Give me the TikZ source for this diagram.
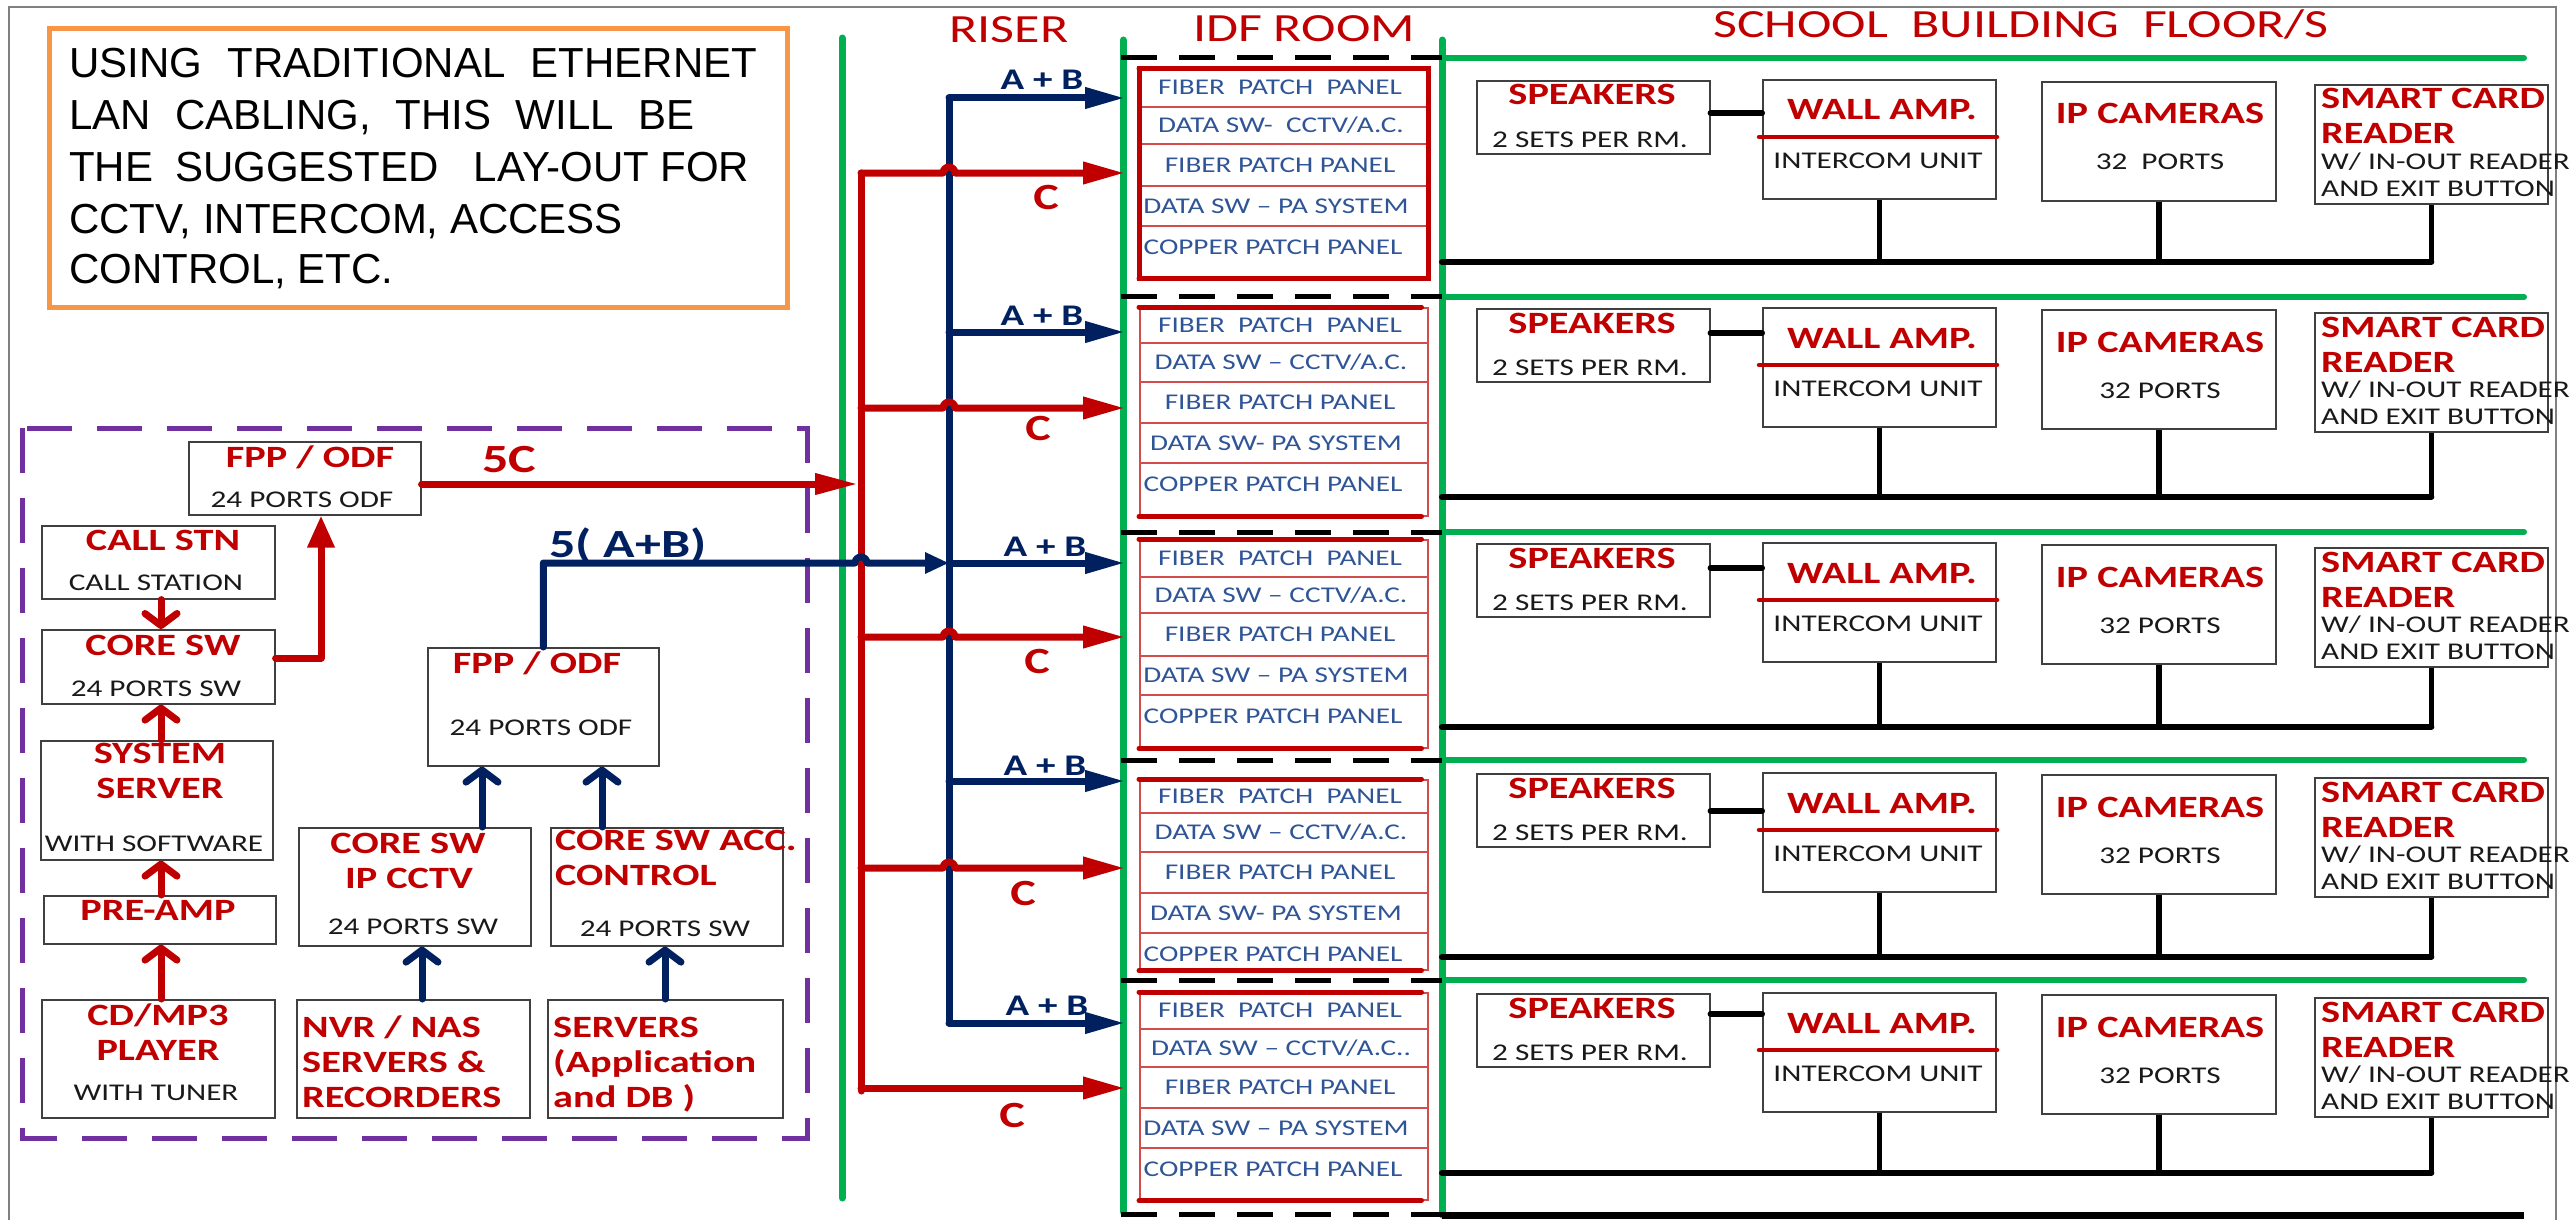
\documentclass[tikz,border=0pt]{standalone}
\usepackage{fontspec}
\setmainfont{Liberation Sans}
\newfontfamily\calfont[FakeStretch=1.3]{Carlito}
\usetikzlibrary{arrows.meta,calc}

\definecolor{cred}{RGB}{192,0,0}
\definecolor{cnavy}{RGB}{0,32,96}
\definecolor{cgreen}{RGB}{0,176,80}
\definecolor{cpurple}{RGB}{112,48,160}
\definecolor{corange}{RGB}{247,150,70}
\definecolor{cslate}{RGB}{47,85,151}
\definecolor{cframe}{RGB}{128,128,128}
\definecolor{cbox}{RGB}{64,64,64}

% plain box given by its top-left and bottom-right corners
\newcommand\mkbox[5]{\node[box, minimum width={(#4)-(#2)}, minimum height={(#5)-(#3)}] (#1) at ({#2},{#3}) {};}

% one IDF rack: name, top, four row dividers, bottom, row-2 text, row-4 text
\newcommand\idfpanel[9]{%
  \node[idfbox, minimum width=288, minimum height={(#7)-(#2)}] (#1) at (1139,{#2}) {};
  \draw[idfthick] (#1.north west) -- ([xshift=-7pt]#1.north east);
  \draw[idfthick] (#1.south west) -- ([xshift=-7pt]#1.south east);
  \foreach \d in {#3,#4,#5,#6} \draw[idfthin] (1139,\d) -- (1427,\d);
  \node[idftxt] (#1-r1) at (1280,{(#2+#3)/2+7}) {FIBER\ \ PATCH\ \ PANEL};
  \node[idftxt] (#1-r2) at (1281,{(#3+#4)/2+7}) {#8};
  \node[idftxt] (#1-r3) at (1280,{(#4+#5)/2+7}) {FIBER PATCH PANEL};
  \node[idftxt] (#1-r4) at (1276,{(#5+#6)/2+7}) {#9};
  \node[idftxt] (#1-r5) at (1273,{#6+28}) {COPPER PATCH PANEL};
}

% one school floor: name prefix, top of the amplifier box, speaker link height, bus height, camera ports text
\newcommand\floorrow[5]{%
  \mkbox{#1spk}{1476}{#2+1}{1709}{#2+74}
  \mkbox{#1amp}{1762}{#2}{1995}{#2+119}
  \mkbox{#1cam}{2041}{#2+2}{2275}{#2+121}
  \mkbox{#1card}{2314}{#2+5}{2547}{#2+124}
  \node[ttl] (#1spk-a) at (1592,{#2+26}) {SPEAKERS};
  \node[sub] (#1spk-b) at (1590,{#2+68}) {2 SETS PER RM.};
  \node[ttl] (#1amp-a) at (1882,{#2+41}) {WALL AMP.};
  \draw[ampline] (1759,{#2+58}) -- (1997,{#2+58});
  \node[sub] (#1amp-b) at (1878,{#2+89}) {INTERCOM UNIT};
  \node[ttl] (#1cam-a) at (2160,{#2+45}) {IP CAMERAS};
  \node[sub] (#1cam-b) at (2160,{#2+91}) {#5};
  \node[ttl, anchor=base west] (#1card-a) at (2321,{#2+30}) {SMART CARD};
  \node[ttl, anchor=base west] (#1card-b) at (2321,{#2+65}) {READER};
  \node[sub, anchor=base west] (#1card-c) at (2321,{#2+90}) {W/ IN-OUT READER};
  \node[sub, anchor=base west] (#1card-d) at (2321,{#2+117}) {AND EXIT BUTTON};
  \coordinate (#1lk) at (1720,{#3});
  \coordinate (#1bus) at (1442,{#4});
  \draw[busln] (#1spk.east |- #1lk) -- (#1amp.west |- #1lk);
  \draw[busln] (#1bus) -- (#1bus -| #1card.south);
  \draw[dropln] (#1amp.south) -- (#1amp.south |- #1bus);
  \draw[dropln] (#1cam.south) -- (#1cam.south |- #1bus);
  \draw[dropln] (#1card.south) -- (#1card.south |- #1bus);
}

\begin{document}
\begin{tikzpicture}[x=1pt,y=-1pt,
  box/.style={draw=cbox, line width=1.6pt, anchor=north west, inner sep=0pt},
  ttl/.style={font=\calfont\bfseries\fontsize{31}{31}\selectfont, text=cred, inner sep=0pt, anchor=base},
  sub/.style={font=\calfont\fontsize{24}{24}\selectfont, text=black!90, inner sep=0pt, anchor=base},
  hdr/.style={font=\calfont\fontsize{40}{40}\selectfont, text=cred, inner sep=0pt, anchor=base},
  lblred/.style={font=\calfont\bfseries\fontsize{40}{40}\selectfont, text=cred, inner sep=0pt, anchor=base},
  lblblue/.style={font=\calfont\bfseries\fontsize{40}{40}\selectfont, text=cnavy, inner sep=0pt, anchor=base},
  ablbl/.style={font=\calfont\bfseries\fontsize{30}{30}\selectfont, text=cnavy, inner sep=0pt, anchor=base},
  clbl/.style={font=\calfont\bfseries\fontsize{37}{37}\selectfont, text=cred, inner sep=0pt, anchor=base},
  notetxt/.style={font=\fontsize{42}{42}\selectfont, inner sep=0pt, anchor=base west},
  idfbox/.style={draw=cred!70, line width=1.5pt, anchor=north west, inner sep=0pt},
  idfthick/.style={draw=cred, line width=5pt, line cap=round},
  idfthin/.style={draw=cred!70, line width=1.5pt},
  idftxt/.style={font=\calfont\fontsize{22.5}{22.5}\selectfont, text=cslate, inner sep=0pt, anchor=base},
  redthick/.style={draw=cred, line width=7pt, line cap=round, line join=round},
  bluethick/.style={draw=cnavy, line width=7pt, line cap=round, line join=round},
  bigtip/.style={-{Triangle[length=42pt,width=21pt]}},
  chev/.style={-{Straight Barb[length=12pt,width=32pt,round]}},
  greenln/.style={draw=cgreen, line width=7pt, line cap=round},
  floorln/.style={draw=cgreen, line width=6pt, line cap=round},
  sepdash/.style={draw=black, line width=5pt, dash pattern=on 36pt off 22pt},
  busln/.style={draw=black, line width=6pt, line cap=round},
  dropln/.style={draw=black, line width=5.5pt},
  ampline/.style={draw=cred, line width=4.5pt, line cap=round},
]
\useasboundingbox (0,0) rectangle (2573,1220);

% outer frame
\draw[cframe, line width=2pt] (9,1220) -- (9,7) -- (2556,7) -- (2556,1220);

% note
\node[draw=corange, line width=5pt, minimum width=738, minimum height=279, anchor=north west, inner sep=0pt] (note) at (47,26) {};
\node[notetxt] (note-1) at (69,78) {\makebox[688pt][s]{USING TRADITIONAL ETHERNET}};
\node[notetxt] (note-2) at (69,130) {\makebox[625pt][s]{LAN CABLING, THIS WILL BE}};
\node[notetxt] (note-3) at (69,182) {THE\hspace{22pt}SUGGESTED\hspace{35pt}LAY-OUT FOR};
\node[notetxt] (note-4) at (69,233) {CCTV, INTERCOM, ACCESS};
\node[notetxt] (note-5) at (69,283) {CONTROL, ETC.};

% head-end group
\draw[cpurple, line width=5pt, dash pattern=on 45pt off 25pt] (22,428) rectangle (807,1138);

% section headings
\node[hdr] (h-riser) at (1009,43) {RISER};
\node[hdr] (h-idf) at (1304,42) {IDF ROOM};
\node[hdr] (h-school) at (2021,38) {SCHOOL\ \ BUILDING\ \ FLOOR/S};

% riser and IDF room walls
\draw[greenln] (842,38) -- (842,1198);
\draw[greenln] (1123,40) -- (1123,1212);
\draw[greenln] (1442,40) -- (1442,1215);
\foreach \y in {58,297,532,760,980} \draw[floorln] (1442,\y) -- (2524,\y);
\foreach \y in {58,296,532,760,980,1214} \draw[sepdash] (1121,\y) -- (1442,\y);
\draw[black, line width=7pt] (1442,1215) -- (2524,1215);

% IDF racks
\idfpanel{idfa}{69}{107}{144}{186}{226}{277}{DATA SW-\ \ CCTV/A.C.}{DATA SW – PA SYSTEM}
\draw[idfthick] (idfa.north west) rectangle (idfa.south east);
\idfpanel{idfb}{307}{343}{382}{423}{463}{515}{DATA SW – CCTV/A.C.}{DATA SW- PA SYSTEM}
\idfpanel{idfc}{539}{577}{613}{656}{695}{747}{DATA SW – CCTV/A.C.}{DATA SW – PA SYSTEM}
\idfpanel{idfd}{779}{813}{852}{893}{933}{969}{DATA SW – CCTV/A.C.}{DATA SW- PA SYSTEM}
\idfpanel{idfe}{992}{1029}{1067}{1108}{1148}{1199}{DATA SW – CCTV/A.C..}{DATA SW – PA SYSTEM}

% school floors
\floorrow{fa}{79}{113}{262}{32\ \ PORTS}
\floorrow{fb}{307}{333}{497}{32 PORTS}
\floorrow{fc}{542}{568}{727}{32 PORTS}
\floorrow{fd}{772}{811}{957}{32 PORTS}
\floorrow{fe}{992}{1014}{1173}{32 PORTS}

% riser taps
\coordinate (idfL) at (1125,0);
\coordinate (ab1) at (949,98);
\coordinate (ab2) at (949,332);
\coordinate (ab3) at (949,563);
\coordinate (ab4) at (949,781);
\coordinate (ab5) at (949,1023);
\coordinate (c1) at (861,173);
\coordinate (c2) at (861,408);
\coordinate (c3) at (861,637);
\coordinate (c4) at (861,868);
\coordinate (c5) at (861,1088);

% A+B fibre riser
\draw[bluethick] (ab1) -- (ab5);
\foreach \k in {ab1,ab2,ab3,ab4,ab5} \draw[bluethick, -{Triangle[length=40pt,width=20pt]}] (\k) -- (\k -| idfL);

% C fibre riser
\draw[redthick] (c1) -- (861,1091);
\foreach \k in {c1,c2,c3,c4}
  \draw[redthick, bigtip] (\k) -- ([xshift=-6pt]\k -| ab1) arc[start angle=180, end angle=360, radius=6] -- (\k -| idfL);
\draw[redthick, bigtip] (c5) -- (c5 -| idfL);

% riser labels
\node[ablbl] (l-ab1) at (1042,90) {A + B};
\node[ablbl] (l-ab2) at (1042,325) {A + B};
\node[ablbl] (l-ab3) at (1045,556) {A + B};
\node[ablbl] (l-ab4) at (1045,775) {A + B};
\node[ablbl] (l-ab5) at (1047,1015) {A + B};
\node[clbl] (l-c1) at (1046,209) {C};
\node[clbl] (l-c2) at (1038,440) {C};
\node[clbl] (l-c3) at (1037,673) {C};
\node[clbl] (l-c4) at (1023,905) {C};
\node[clbl] (l-c5) at (1012,1127) {C};

% head-end equipment
\mkbox{fppa}{188}{441}{420}{514}
\mkbox{call}{41}{525}{274}{598}
\mkbox{core}{41}{629}{274}{703}
\mkbox{srv}{40}{740}{272}{859}
\mkbox{pre}{43}{895}{275}{943}
\mkbox{cd}{41}{999}{274}{1117}
\mkbox{fppb}{427}{647}{658}{765}
\mkbox{cctv}{298}{827}{530}{945}
\mkbox{acc}{550}{827}{782}{945}
\mkbox{nvr}{296}{999}{529}{1117}
\mkbox{apps}{547}{999}{782}{1117}

\node[ttl] (fppa-a) at (310,467) {FPP / ODF};
\node[sub] (fppa-b) at (302,507) {24 PORTS ODF};
\node[ttl] (call-a) at (163,550) {CALL STN};
\node[sub] (call-b) at (156,590) {CALL STATION};
\node[ttl] (core-a) at (163,655) {CORE SW};
\node[sub] (core-b) at (156,696) {24 PORTS SW};
\node[ttl] (srv-a) at (160,763) {SYSTEM};
\node[ttl] (srv-b) at (160,798) {SERVER};
\node[sub] (srv-c) at (154,851) {WITH SOFTWARE};
\node[ttl] (pre-a) at (158,920) {PRE-AMP};
\node[ttl] (cd-a) at (158,1025) {CD/MP3};
\node[ttl] (cd-b) at (158,1060) {PLAYER};
\node[sub] (cd-c) at (156,1100) {WITH TUNER};
\node[ttl] (fppb-a) at (537,673) {FPP / ODF};
\node[sub] (fppb-b) at (541,735) {24 PORTS ODF};
\node[ttl] (cctv-a) at (408,853) {CORE SW};
\node[ttl] (cctv-b) at (409,888) {IP CCTV};
\node[sub] (cctv-c) at (413,934) {24 PORTS SW};
\node[ttl, anchor=base west] (acc-a) at (555,850) {CORE SW ACC.};
\node[ttl, anchor=base west] (acc-b) at (555,885) {CONTROL};
\node[sub] (acc-c) at (665,936) {24 PORTS SW};
\node[ttl, anchor=base west] (nvr-a) at (302,1037) {NVR / NAS};
\node[ttl, anchor=base west] (nvr-b) at (302,1072) {SERVERS \&};
\node[ttl, anchor=base west] (nvr-c) at (302,1107) {RECORDERS};
\node[ttl, anchor=base west] (apps-a) at (553,1037) {SERVERS};
\node[ttl, anchor=base west] (apps-b) at (553,1072) {(Application};
\node[ttl, anchor=base west] (apps-c) at (553,1107) {and DB )};

% head-end links
\coordinate (xa) at (161,0);
\coordinate (xb) at (422,0);
\coordinate (xc) at (665,0);
\coordinate (xd) at (482,0);
\coordinate (xe) at (602,0);
\coordinate (kb) at (321,658);
\coordinate (r5c) at (858,484);
\draw[redthick, chev] (call.south -| xa) -- (core.north -| xa);
\draw[redthick, chev] (srv.north -| xa) -- (core.south -| xa);
\draw[redthick, chev] (pre.north -| xa) -- (srv.south -| xa);
\draw[redthick, chev] (cd.north -| xa) -- (pre.south -| xa);
\draw[bluethick, chev] (nvr.north -| xb) -- (cctv.south -| xb);
\draw[bluethick, chev] (apps.north -| xc) -- (acc.south -| xc);
\draw[bluethick, chev] (cctv.north -| xd) -- (fppb.south -| xd);
\draw[bluethick, chev] (acc.north -| xe) -- (fppb.south -| xe);
\draw[redthick, -{Triangle[length=32pt,width=26pt]}] (core.east |- kb) -- (kb) -- (fppa.south -| kb);
\draw[redthick, -{Triangle[length=43pt,width=20pt]}] (fppa.east |- r5c) -- (r5c);
\draw[bluethick, -{Triangle[length=24pt,width=20pt]}] (fppb.north) -- (fppb.north |- ab3) -- ([xshift=-6pt]ab3 -| c3) arc[start angle=180, end angle=360, radius=6] -- (ab3);

\node[lblred] (l-5c) at (509,472) {5C};
\node[lblblue] (l-5ab) at (628,557) {5( A+B)};
\end{tikzpicture}
\end{document}
